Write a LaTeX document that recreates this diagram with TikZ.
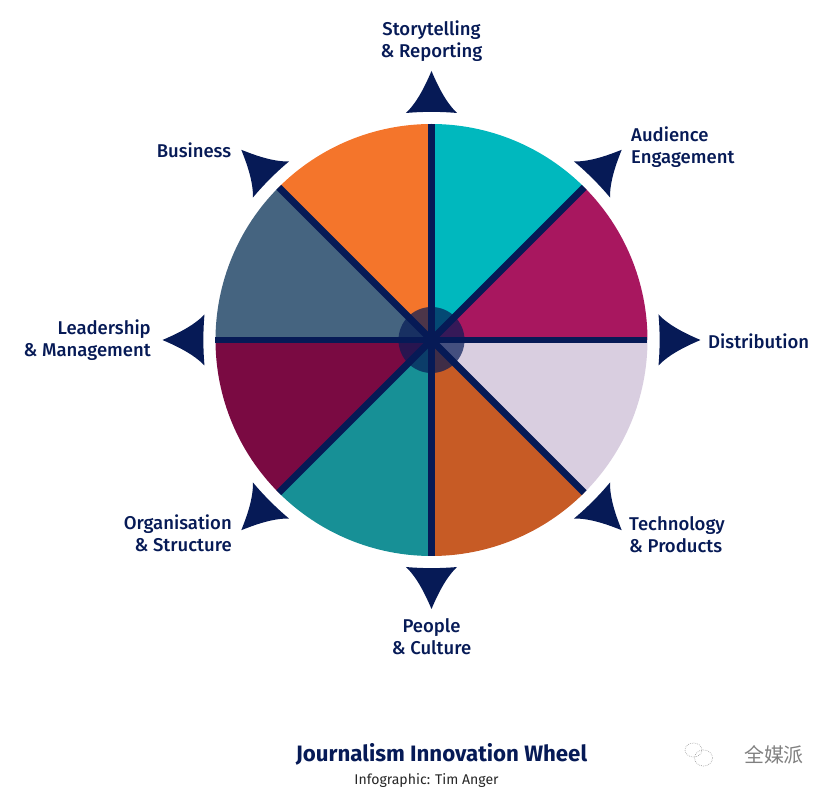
\documentclass[tikz,border=0pt]{standalone}
\usepackage{fontspec}
\setmainfont{Fira Sans}
\newfontfamily\wheelfont{Fira Sans Medium}
\newfontfamily\cjkfont{Noto Sans CJK SC}
\definecolor{wheelnavy}{RGB}{6,26,86}
\definecolor{wheelteal}{RGB}{0,184,190}
\definecolor{wheelmagenta}{RGB}{168,23,95}
\definecolor{wheellilac}{RGB}{217,206,224}
\definecolor{wheelrust}{RGB}{199,91,37}
\definecolor{wheelgreen}{RGB}{23,144,150}
\definecolor{wheelwine}{RGB}{122,10,66}
\definecolor{wheelslate}{RGB}{69,100,128}
\definecolor{wheelorange}{RGB}{244,117,43}
\tikzset{
  wheellabel/.style={font=\fontsize{15.8}{18.7}\wheelfont, text=wheelnavy, inner sep=0pt},
  wheeltip/.pic={
    \fill[wheelnavy] (0,269) .. controls (6,255) and (14,238) .. (25.5,227)
      .. controls (9,228.5) and (-9,228.5) .. (-25.5,227)
      .. controls (-14,238) and (-6,255) .. (0,269) -- cycle;
  }
}
\begin{document}
\begin{tikzpicture}[x=0.03cm,y=0.03cm]
  \useasboundingbox (-431.5,-450) rectangle (398.5,340);
  % wheel
  \foreach \start/\shade in {45/wheelteal,0/wheelmagenta,-45/wheellilac,-90/wheelrust,
      -135/wheelgreen,-180/wheelwine,135/wheelslate,90/wheelorange}
    \fill[\shade] (0,0) -- (\start:216) arc[start angle=\start, delta angle=45, radius=216] -- cycle;
  \fill[wheelnavy, fill opacity=0.7] (0,0) circle (33);
  \foreach \a in {0,45,...,315}
    \draw[wheelnavy, line width=5.9pt] (0,0) -- (\a:216);
  % tips
  \foreach \a in {0,45,...,315}
    \pic[rotate=\a] {wheeltip};
  % labels
  \node[wheellabel, align=center] (story) at (0,298.5) {Storytelling\\\& Reporting};
  \node[wheellabel, align=left, anchor=west] (audience) at (199.5,192.5) {Audience\\Engagement};
  \node[wheellabel, anchor=west] (distribution) at (276.5,-1) {Distribution};
  \node[wheellabel, align=left, anchor=west] (technology) at (197.5,-195) {Technology\\\& Products};
  \node[wheellabel, align=center] (people) at (0,-297) {People\\\& Culture};
  \node[wheellabel, align=right, anchor=east] (organisation) at (-199.5,-193) {Organisation\\\& Structure};
  \node[wheellabel, align=right, anchor=east] (leadership) at (-280.5,-0.5) {Leadership\\\& Management};
  \node[wheellabel] (business) at (-237.5,190) {Business};
  % caption
  \node[font=\fontsize{19}{24}\selectfont\bfseries, text=wheelnavy, inner sep=0pt] (title) at (10,-414) {Journalism Innovation Wheel};
  \node[font=\fontsize{12}{14}\selectfont, text=black!85, inner sep=0pt] (credit) at (-5,-441) {Infographic: Tim Anger};
  % watermark
  \node[font=\fontsize{17}{20}\cjkfont, text=black!50, inner sep=0pt] (mark) at (342.5,-415) {全媒派};
  \draw[black!35, densely dotted, line width=0.6pt] (262,-410) ellipse (8.5 and 7);
  \draw[black!35, densely dotted, line width=0.6pt] (272,-418) ellipse (9 and 8);
\end{tikzpicture}
\end{document}
